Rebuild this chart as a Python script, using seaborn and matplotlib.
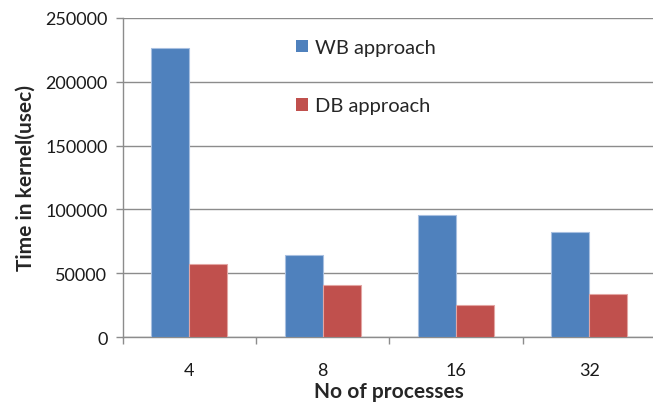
import matplotlib
matplotlib.use("Agg")
import matplotlib.pyplot as plt
from matplotlib.patches import Patch
import seaborn as sns
import pandas as pd

# Kernel time per process count for the two approaches
processes = ["4", "8", "16", "32"]
wb_times = [226000, 64000, 96000, 82000]
db_times = [57000, 41000, 25000, 34000]
series_names = ["WB approach", "DB approach"]
y_ticks = [0, 50000, 100000, 150000, 200000, 250000]

df = pd.DataFrame({
    "processes": processes * 2,
    "time": wb_times + db_times,
    "approach": [series_names[0]] * len(processes) + [series_names[1]] * len(processes),
})

sns.set_theme(style="white")
plt.rcParams["font.family"] = ["Lato", "DejaVu Sans"]

fig = plt.figure(figsize=(6.53, 4.06), dpi=100)
ax = fig.add_axes([122.7 / 653, 1 - 338.3 / 406, 533.3 / 653, (338.3 - 18.7) / 406])

palette = {series_names[0]: "#4F81BD", series_names[1]: "#C0504D"}
sns.barplot(data=df, x="processes", y="time", hue="approach", order=processes,
            hue_order=series_names, palette=palette, width=0.57, saturation=1,
            ax=ax, legend=False, zorder=3)

edge_colors = ["#A7BFE0", "#E3A5A3"]
for cont, ec in zip(ax.containers, edge_colors):
    for bar in cont:
        bar.set_edgecolor(ec)
        bar.set_linewidth(0.8)

ax.set_ylim(0, 250000)
ax.set_xlim(-0.5, 3.5)
ax.set_yticks(y_ticks)
ax.set_yticklabels([str(v) for v in y_ticks], fontsize=13, color="#1a1a1a")
ax.yaxis.grid(True, color="#8c8c8c", linewidth=1.0, zorder=0)
ax.set_axisbelow(True)

# Category boundaries as x tick marks, labels centered between them
ax.set_xticks([-0.5, 0.5, 1.5, 2.5, 3.5], minor=True)
ax.tick_params(axis="x", which="minor", length=5, width=1, color="#8c8c8c", direction="out", bottom=True)
ax.tick_params(axis="x", which="major", length=0, pad=18, labelsize=13, labelcolor="#1a1a1a")
ax.tick_params(axis="y", which="major", length=5, width=1, color="#8c8c8c", direction="out", left=True, pad=6)

for side in ["top", "right"]:
    ax.spines[side].set_visible(False)
for side in ["left", "bottom"]:
    ax.spines[side].set_color("#8c8c8c")
    ax.spines[side].set_linewidth(1.0)

ax.set_xlabel("No of processes", fontsize=15, fontweight="bold", labelpad=2)
ax.set_ylabel("Time in kernel(usec)", fontsize=15, fontweight="bold", labelpad=7)

handles = [Patch(facecolor=palette[n], edgecolor="none") for n in series_names]
ax.legend(handles, series_names, loc="upper left", bbox_to_anchor=(296 / 653, 1 - 40 / 406),
          bbox_transform=fig.transFigure, frameon=False, fontsize=14.5,
          handlelength=0.6, handleheight=0.6, handletextpad=0.35, labelspacing=2.05,
          borderaxespad=0, borderpad=0)

fig.savefig("out.png", dpi=100)
